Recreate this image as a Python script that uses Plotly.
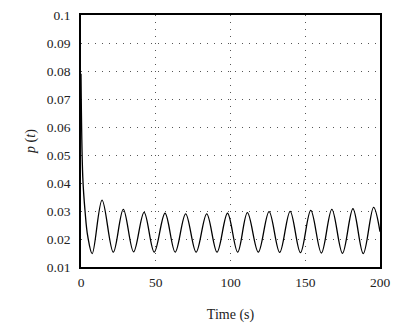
import plotly.graph_objects as go

# Time samples (s) at the start and at each turning point of p(t)
time_s = [0, 1.2, 2.7, 4.5, 7.5, 14.1, 21.6, 28.3, 35.2, 42.2, 49.0, 56.2, 63.0,
          70.0, 77.0, 84.1, 91.0, 98.0, 104.8, 111.3, 118.6, 125.8, 132.9,
          139.9, 146.8, 153.7, 160.8, 167.8, 174.9, 181.9, 188.8, 195.7, 200.0]
p_values = [0.079, 0.042, 0.030, 0.021, 0.0148, 0.0339, 0.0153, 0.0306, 0.0154,
            0.0295, 0.0153, 0.0292, 0.0153, 0.0290, 0.0153, 0.0290, 0.0153,
            0.0292, 0.0153, 0.0294, 0.0153, 0.0298, 0.0152, 0.0299, 0.0151,
            0.0302, 0.0150, 0.0306, 0.0149, 0.0308, 0.0148, 0.0313, 0.0226]

x_ticks = [0, 50, 100, 150, 200]
y_ticks = [0.01, 0.02, 0.03, 0.04, 0.05, 0.06, 0.07, 0.08, 0.09, 0.1]
y_tick_text = ["0.01", "0.02", "0.03", "0.04", "0.05", "0.06", "0.07", "0.08", "0.09", "0.1"]

serif = "Liberation Serif, Times New Roman, serif"
text_color = "#222222"

fig = go.Figure()
fig.add_trace(go.Scatter(
    x=time_s, y=p_values, mode="lines",
    line=dict(color="black", width=1.3, shape="spline", smoothing=1.0),
    showlegend=False, hoverinfo="skip",
))

axis_common = dict(
    showline=True, mirror=True, linecolor="black", linewidth=1.8,
    showgrid=True, gridcolor="#555555", gridwidth=1, griddash="1px,6px",
    zeroline=False, ticks="", automargin=False,
    tickfont=dict(family=serif, size=13.5, color=text_color),
)

fig.update_layout(
    width=400, height=327,
    margin=dict(l=81, r=20, t=15, b=60),
    paper_bgcolor="white", plot_bgcolor="white",
    xaxis=dict(range=[0, 200], tickvals=x_ticks, ticklabelstandoff=2,
               title=dict(text="Time (s)", font=dict(family=serif, size=14, color=text_color),
                          standoff=20),
               **axis_common),
    yaxis=dict(range=[0.01, 0.1], tickvals=y_ticks, ticktext=y_tick_text,
               ticklabelstandoff=6,
               title=dict(text="<i>p</i> (<i>t</i>)", font=dict(family=serif, size=14, color=text_color),
                          standoff=8),
               **axis_common),
)

fig.write_html("out.html")
